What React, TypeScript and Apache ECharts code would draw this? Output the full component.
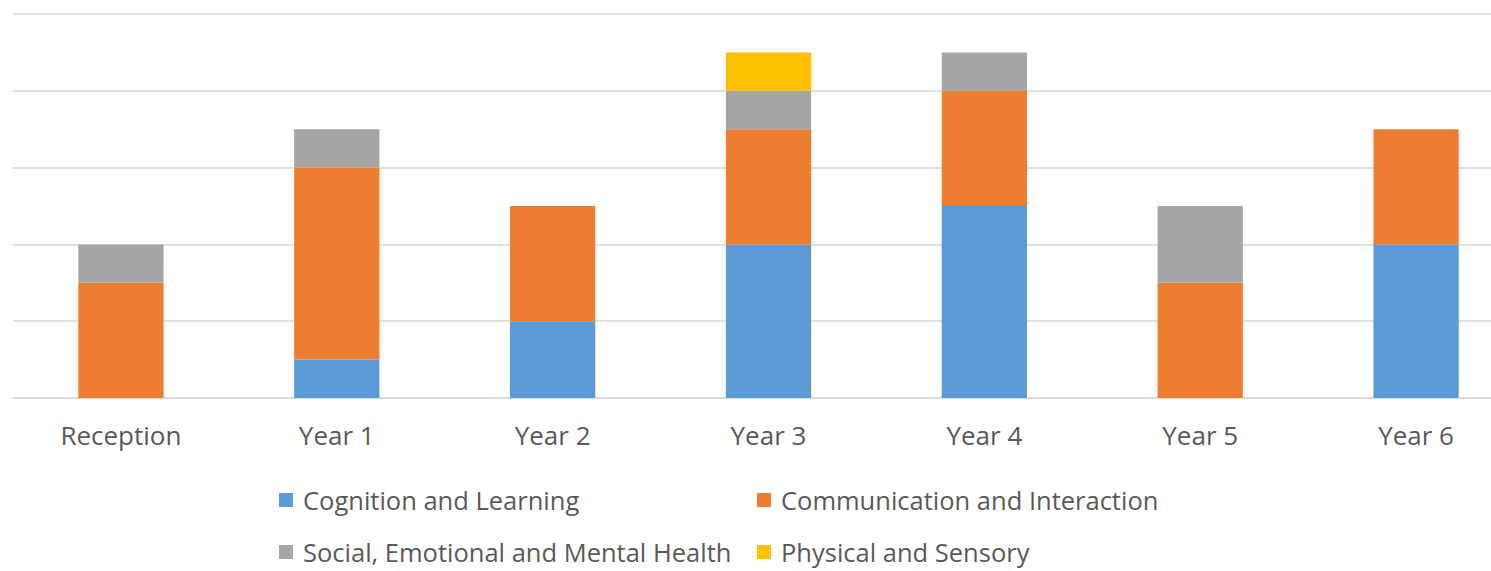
import React, { useEffect, useRef } from "react";
import * as echarts from "echarts";

const categories = ["Reception", "Year 1", "Year 2", "Year 3", "Year 4", "Year 5", "Year 6"];
const seriesNames = [
  "Cognition and Learning",
  "Communication and Interaction",
  "Social, Emotional and Mental Health",
  "Physical and Sensory",
];
const cognition = [0, 1, 2, 4, 5, 0, 4];
const communication = [3, 5, 3, 3, 3, 3, 3];
const social = [1, 1, 0, 1, 1, 2, 0];
const physical = [0, 0, 0, 1, 0, 0, 0];
const seriesValues = [cognition, communication, social, physical];
const colors = ["#5b9bd5", "#ed7d31", "#a5a5a5", "#ffc000"];

const FONT = "'Open Sans', sans-serif";

export default function App() {
  const ref = useRef<HTMLDivElement>(null);
  useEffect(() => {
    if (!ref.current) return;
    const chart = echarts.init(ref.current, undefined, { renderer: "svg" });
    const legendPos = [
      { left: 279, top: 487 },
      { left: 757, top: 487 },
      { left: 279, top: 539 },
      { left: 757, top: 539 },
    ];
    chart.setOption({
      animation: false,
      color: colors,
      grid: { left: 13, width: 1511, top: 14, height: 384, containLabel: false, outerBoundsMode: "none" },
      legend: seriesNames.map((n, i) => ({
        data: [n],
        left: legendPos[i].left,
        top: legendPos[i].top,
        icon: "rect",
        itemWidth: 14,
        itemHeight: 14,
        itemGap: 10,
        padding: 0,
        textStyle: {
          fontFamily: FONT,
          fontSize: 25.5,
          lineHeight: 24,
          color: "#595959",
          padding: [0, 0, 0, 5],
        },
      })),
      xAxis: {
        type: "category",
        data: categories,
        axisLine: { lineStyle: { color: "#d9d9d9", width: 1.5 } },
        axisTick: { show: false },
        axisLabel: { fontFamily: FONT, fontSize: 26, color: "#595959", margin: 24 },
      },
      yAxis: {
        type: "value",
        min: 0,
        max: 10,
        interval: 2,
        axisLabel: { show: false },
        axisLine: { show: false },
        axisTick: { show: false },
        splitLine: { lineStyle: { color: "#d9d9d9", width: 1.5 } },
      },
      series: seriesNames.map((n, i) => ({
        name: n,
        type: "bar",
        stack: "total",
        barWidth: "39.5%",
        data: seriesValues[i].map((v) => (v === 0 ? null : v)),
        itemStyle: { color: colors[i] },
      })),
    });
    return () => chart.dispose();
  }, []);
  return (
    <div
      style={{
        position: "fixed",
        left: 0,
        top: 0,
        width: 1491,
        height: 571,
        overflow: "hidden",
        background: "#fff",
      }}
    >
      <div ref={ref} style={{ width: 1530, height: 571 }} />
    </div>
  );
}
